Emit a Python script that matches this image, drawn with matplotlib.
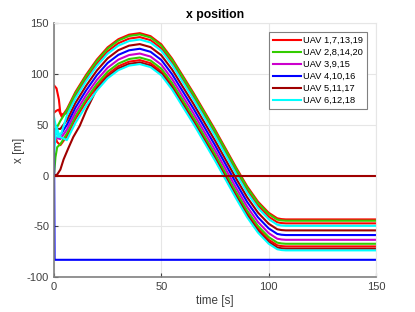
import matplotlib
matplotlib.use('Agg')
import matplotlib.pyplot as plt

plt.rcParams['font.family'] = ['Liberation Sans', 'DejaVu Sans']
plt.rcParams['axes.unicode_minus'] = False

# shared trajectory shape (middle curve)
base_t = [1.5, 3, 6, 10, 15, 20, 25, 30, 35, 40, 45, 50, 55, 60, 65, 70, 75, 80,
          85, 90, 95, 100, 104, 106, 108, 150]
base_x = [35, 40, 50, 67, 84, 99, 111, 119, 123.5, 125, 122, 114, 100, 83, 66, 48,
          30, 11, -8, -26, -41, -52, -57.5, -58.3, -58.6, -58.6]

labels = ['UAV 1,7,13,19', 'UAV 2,8,14,20', 'UAV 3,9,15',
          'UAV 4,10,16', 'UAV 5,11,17', 'UAV 6,12,18']
colors = ['#ff0000', '#33cc00', '#cc00cc', '#0000ff', '#a00000', '#00ffff']

# (colour index, start times, start values, offset from base, join time)
red_a = (0, [0, 1.2, 2.3, 2.9, 3.6], [89, 86, 75, 63, 58], 15.4, 6)
red_b = (0, [0, 1.2, 2.2, 3.2], [62, 64, 65, 60], 11.5, 6)
red_c = (0, [0, 1.5, 3], [42, 33, 30], -11.2, 6)
green_a = (1, [0, 1.5, 3], [43, 48, 54], 14.1, 6)
green_b = (1, [0, 0.7, 1.5, 3], [0, 18, 28, 31], -8.6, 6)
mag_a = (2, [0, 3], [38, 36], -4.7, 6)
blue_a = (3, [0, 3], [42, 40], 0.0, 6)
dred_a = (4, [0, 3], [46, 46], 4.6, 6)
dred_b = (4, [0, 1.5, 3, 4.5, 6.7, 9, 12, 15], [0, 1, 6, 16, 27, 38, 49, 64], -13.4, 20)
cyan_a = (5, [0, 1.2, 2, 3.5], [58, 45, 38, 42], 9.1, 6)
cyan_b = (5, [0, 1.2, 2.8, 4], [22, 48, 38, 37], -15.1, 6)

# UAVs that never left
blue_stuck_t = [0, 0.3, 150]
blue_stuck_x = [45, -83, -83]
dred_stuck_t = [0, 150]
dred_stuck_x = [0, 0]

curves = [red_a, red_b, red_c, green_a, green_b, mag_a, blue_a,
          dred_a, dred_b, cyan_a, cyan_b]

fig = plt.figure(figsize=(4.15, 3.12), dpi=100)
ax = fig.add_axes([0.130, 0.112, 0.776, 0.813])

lw = 1.5
for ci, ht, hx, off, tj in curves:
    t = list(ht) + [bt for bt in base_t if bt >= tj]
    x = list(hx) + [bx + off for bt, bx in zip(base_t, base_x) if bt >= tj]
    ax.plot(t, x, color=colors[ci], lw=lw)
ax.plot(blue_stuck_t, blue_stuck_x, color=colors[3], lw=lw)
ax.plot(dred_stuck_t, dred_stuck_x, color=colors[4], lw=lw)

handles = [plt.Line2D([], [], color=c, lw=lw) for c in colors]
leg = ax.legend(handles, labels, loc='upper right', fontsize=6.7, handlelength=3.0,
                handletextpad=0.3, labelspacing=0.32, borderaxespad=0.95,
                fancybox=False, framealpha=1, borderpad=0.4)
leg.get_frame().set_edgecolor('#808080')
leg.get_frame().set_linewidth(0.8)

ax.set_xlim(0, 150)
ax.set_ylim(-100, 150)
ax.set_xticks([0, 50, 100, 150])
ax.set_yticks([-100, -50, 0, 50, 100, 150])
ax.grid(True, color='#e6e6e6', lw=0.8)
ax.set_axisbelow(True)
ax.tick_params(direction='in', labelsize=8, colors='#404040', length=3)
for s in ['left', 'bottom']:
    ax.spines[s].set_color('#808080')
    ax.spines[s].set_linewidth(1.2)
for s in ['top', 'right']:
    ax.spines[s].set_color('#e6e6e6')

ax.set_title('x position', fontsize=8.8, fontweight='bold', pad=4)
ax.set_xlabel('time [s]', fontsize=8.4, color='#404040', labelpad=2)
ax.set_ylabel('x [m]', fontsize=8.4, color='#404040', labelpad=1)

plt.savefig('out.png', dpi=100)
